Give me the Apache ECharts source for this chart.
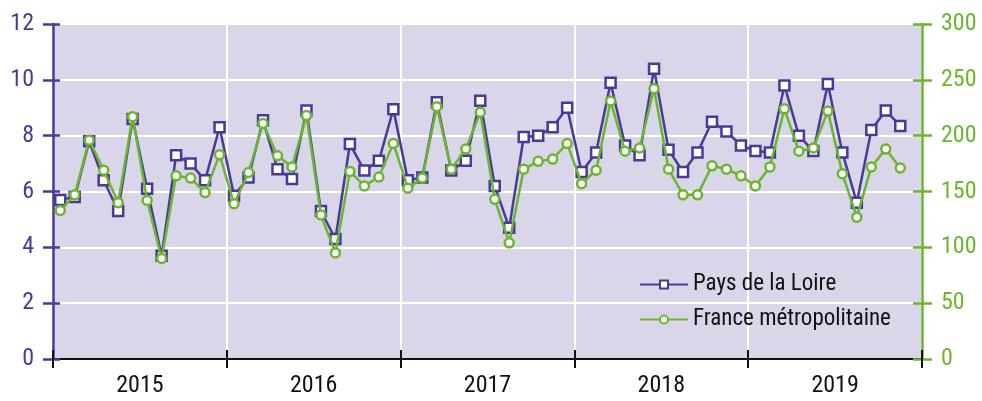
<!DOCTYPE html>
<html>
<head>
<meta charset="utf-8">
<script src="https://cdn.jsdelivr.net/npm/echarts@6/dist/echarts.min.js"></script>
<style>html,body{margin:0;padding:0;background:#fff}#c{width:982px;height:401px}</style>
</head>
<body>
<div id="c"></div>
<script>
const years = ['2015','2016','2017','2018','2019'];
const months = [];
years.forEach(y => { for (let m = 1; m <= 12; m++) months.push(y + '-' + (m < 10 ? '0' + m : m)); });
const paysDeLaLoire = [5.7,5.8,7.8,6.4,5.3,8.6,6.1,3.7,7.3,7.0,6.4,8.3,
  5.85,6.5,8.55,6.8,6.45,8.9,5.3,4.3,7.7,6.75,7.1,8.95,
  6.4,6.5,9.2,6.75,7.1,9.25,6.2,4.7,7.95,8.0,8.3,9.0,
  6.7,7.4,9.9,7.65,7.3,10.4,7.5,6.7,7.4,8.5,8.15,7.65,
  7.45,7.4,9.8,8.0,7.45,9.85,7.4,5.6,8.2,8.9,8.35,null];
const franceMetro = [133,147,196,169,140,217,142,90,164,162,149,183,
  139,167,211,182,172,218,129,95,168,155,163,193,
  153,162,226,170,188,221,143,104,170,177,179,193,
  157,169,231,186,189,242,170,147,147,173,170,164,
  155,172,224,186,189,222,166,127,172,188,171,null];
const leftTicks = [0,2,4,6,8,10,12];
const rightTicks = [0,50,100,150,200,250,300];

const FONT = '"Roboto Condensed","DejaVu Sans Condensed",sans-serif';
const PURPLE = '#4a3a98';
const GREEN = '#6cb52e';
const chart = echarts.init(document.getElementById('c'));
chart.setOption({
  animation: false,
  grid: {left: 53, right: 60, top: 24, bottom: 42, show: true, backgroundColor: '#d9d6e9', borderWidth: 0},
  legend: {
    orient: 'vertical', left: 634, top: 268, itemWidth: 48, itemHeight: 10, itemGap: 12, padding: 5,
    textStyle: {fontFamily: FONT, fontSize: 23, color: '#111'},
    data: ['Pays de la Loire', 'France métropolitaine']
  },
  xAxis: [
    {type: 'category', data: months, boundaryGap: true, axisLine: {show: false},
     axisTick: {show: true, inside: true, length: 9, interval: (i) => i % 12 === 0, lineStyle: {color: '#111', width: 2}},
     axisLabel: {show: false}, splitLine: {show: false}},
    {type: 'category', data: years, boundaryGap: true, position: 'bottom',
     axisLine: {show: true, onZero: false, lineStyle: {color: '#111', width: 2}},
     axisTick: {show: true, length: 9, lineStyle: {color: '#111', width: 2}},
     axisLabel: {fontFamily: FONT, fontSize: 24, color: '#111', margin: 15},
     splitLine: {show: true, lineStyle: {color: '#ffffff', width: 2}}}
  ],
  yAxis: [
    {type: 'value', min: 0, max: 12, interval: 2, position: 'left',
     axisLine: {show: true, onZero: false, lineStyle: {color: PURPLE, width: 2.5}},
     axisTick: {show: true, length: 10, lineStyle: {color: PURPLE, width: 2.5}},
     axisLabel: {fontFamily: FONT, fontSize: 24, color: PURPLE, margin: 19,
       formatter: v => leftTicks.includes(v) ? String(v) : ''},
     splitLine: {show: true, lineStyle: {color: '#ffffff', width: 2}}},
    {type: 'value', min: 0, max: 300, interval: 50, position: 'right',
     axisLine: {show: true, onZero: false, lineStyle: {color: GREEN, width: 2.5}},
     axisTick: {show: true, length: 10, lineStyle: {color: GREEN, width: 2.5}},
     axisLabel: {fontFamily: FONT, fontSize: 24, color: GREEN, margin: 19,
       formatter: v => rightTicks.includes(v) ? String(v) : ''},
     splitLine: {show: false}},
    {type: 'value', min: 0, max: 12, interval: 2, position: 'left',
     axisLine: {show: false}, axisTick: {show: true, inside: true, length: 7, lineStyle: {color: PURPLE, width: 2.5}},
     axisLabel: {show: false}, splitLine: {show: false}},
    {type: 'value', min: 0, max: 300, interval: 50, position: 'right',
     axisLine: {show: false}, axisTick: {show: true, inside: true, length: 9, lineStyle: {color: GREEN, width: 2.5}},
     axisLabel: {show: false}, splitLine: {show: false}}
  ],
  series: [
    {name: 'Pays de la Loire', type: 'line', xAxisIndex: 0, yAxisIndex: 0, data: paysDeLaLoire,
     symbol: 'rect', symbolSize: 10, showAllSymbol: true,
     itemStyle: {color: '#ffffff', borderColor: PURPLE, borderWidth: 2.5},
     lineStyle: {color: PURPLE, width: 2.5}, z: 3},
    {name: 'France métropolitaine', type: 'line', xAxisIndex: 0, yAxisIndex: 1, data: franceMetro,
     symbol: 'circle', symbolSize: 9, showAllSymbol: true,
     itemStyle: {color: '#ffffff', borderColor: GREEN, borderWidth: 2.5},
     lineStyle: {color: GREEN, width: 2.5}, z: 4}
  ]
});
</script>
</body>
</html>
